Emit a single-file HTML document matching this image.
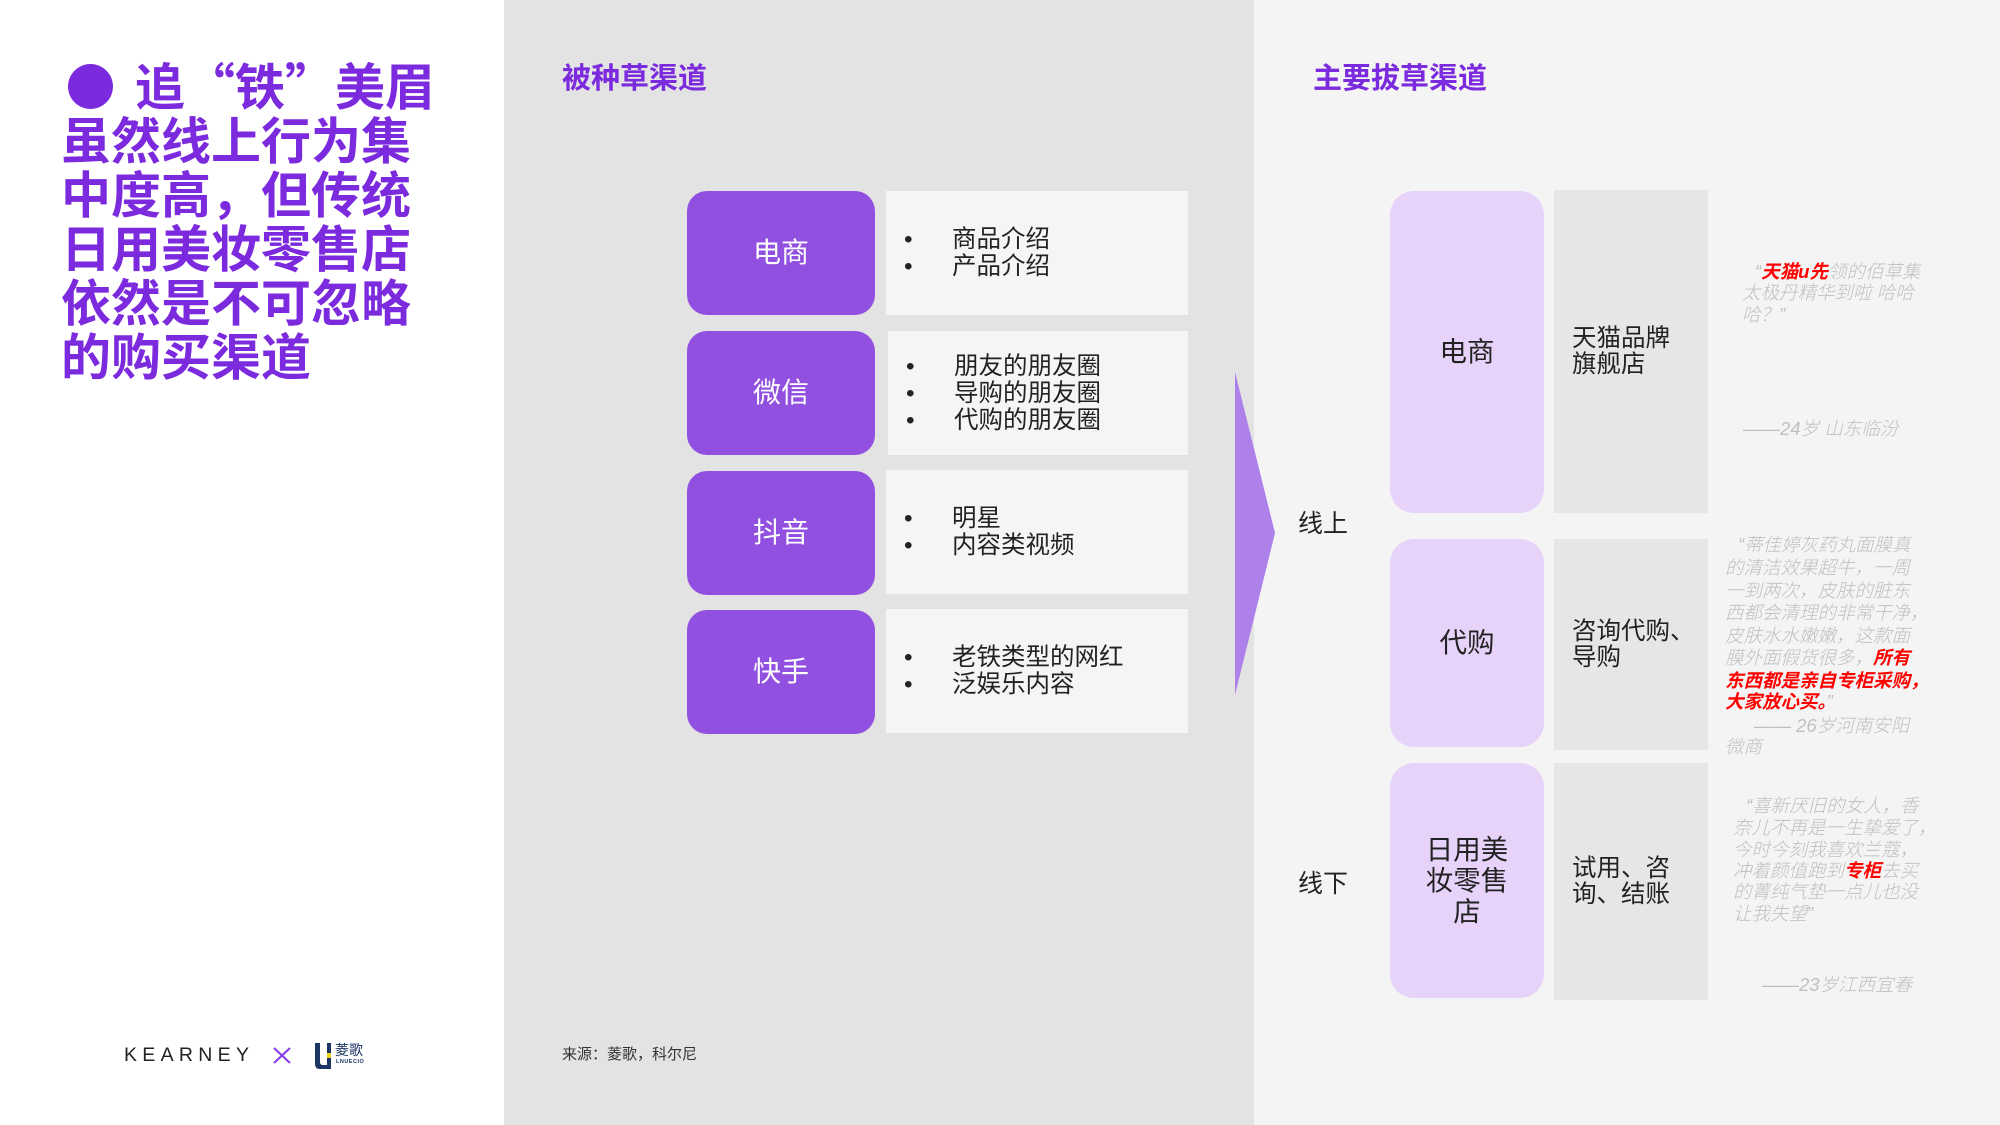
<!DOCTYPE html>
<html><head><meta charset="utf-8">
<style>
*{margin:0;padding:0;box-sizing:border-box}
body{width:2000px;height:1125px;position:relative;overflow:hidden;background:#fff;font-family:"Liberation Sans","Noto Sans CJK SC",sans-serif;}
.abs{position:absolute;white-space:nowrap}
.t{position:absolute;white-space:nowrap;font-family:"Noto Sans CJK SC","Liberation Sans",sans-serif;font-weight:700;color:#7b2ade;font-size:50px;line-height:54px;height:54px}
.c{display:inline-block;width:50px;text-align:left}
.h{position:absolute;white-space:nowrap;font-family:"Noto Sans CJK SC",sans-serif;font-weight:700;color:#7b2ade;font-size:29px;line-height:30px}
.pb{position:absolute;left:687px;width:188px;height:124px;background:#9150e0;border-radius:20px;display:flex;align-items:center;justify-content:center;color:#fff;font-size:28px;font-family:"Noto Sans CJK SC",sans-serif;padding-bottom:5px}
.wb{position:absolute;left:886px;width:302px;height:124px;background:#f5f5f5;display:flex;flex-direction:column;justify-content:center;font-family:"Liberation Sans","Noto Sans CJK SC",sans-serif;font-size:24.5px;line-height:27px;color:#222}
.wb div{position:relative;padding-left:66px;height:27px;white-space:nowrap}
.wb div span{position:absolute;left:18px;top:0;font-family:"Liberation Sans",sans-serif}
.lp{position:absolute;left:1390px;width:154px;background:#e7d3fa;border-radius:24px;display:flex;align-items:center;justify-content:center;text-align:center;color:#222;font-size:27.5px;line-height:31px;font-family:"Noto Sans CJK SC",sans-serif;padding-bottom:5px}
.gb{position:absolute;left:1554px;width:154px;background:#e6e6e6;display:flex;align-items:center;padding-left:18px;color:#222;font-size:24.5px;line-height:25.5px;font-family:"Liberation Sans","Noto Sans CJK SC",sans-serif}
.q{position:absolute;white-space:nowrap;font-family:"Liberation Sans","Noto Sans CJK SC",sans-serif;font-style:italic;font-weight:300;font-size:18.5px;line-height:22px;height:22px;color:#bfbfbf}
.r{color:#ff0000;font-weight:700}
.lab{position:absolute;white-space:nowrap;font-family:"Noto Sans CJK SC",sans-serif;font-size:25px;line-height:26px;color:#222}
</style></head><body>

<!-- panels -->
<div class="abs" style="left:504px;top:0;width:750px;height:1125px;background:#e3e3e3"></div>
<div class="abs" style="left:1254px;top:0;width:746px;height:1125px;background:#f4f4f4"></div>

<!-- left title -->
<div class="abs" style="left:68px;top:64px;width:45px;height:45px;border-radius:50%;background:#7b2ade"></div>
<div class="t" style="left:135px;top:57px"><span class="c">追</span><span class="c" style="text-align:right">“</span><span class="c">铁</span><span class="c">”</span><span class="c">美</span><span class="c">眉</span></div>
<div class="t" style="left:61px;top:111px">虽然线上行为集</div>
<div class="t" style="left:61px;top:165px">中度高，但传统</div>
<div class="t" style="left:61px;top:219px">日用美妆零售店</div>
<div class="t" style="left:61px;top:273px">依然是不可忽略</div>
<div class="t" style="left:61px;top:327px">的购买渠道</div>

<!-- section headers -->
<div class="h" style="left:562px;top:61px">被种草渠道</div>
<div class="h" style="left:1313px;top:61px">主要拔草渠道</div>

<!-- middle rows -->
<div class="pb" style="top:191px">电商</div>
<div class="wb" style="top:191px"><div><span>•</span>商品介绍</div><div><span>•</span>产品介绍</div></div>

<div class="pb" style="top:331px">微信</div>
<div class="wb" style="top:331px;left:888px;width:300px"><div><span>•</span>朋友的朋友圈</div><div><span>•</span>导购的朋友圈</div><div><span>•</span>代购的朋友圈</div></div>

<div class="pb" style="top:471px">抖音</div>
<div class="wb" style="top:470px"><div><span>•</span>明星</div><div><span>•</span>内容类视频</div></div>

<div class="pb" style="top:610px">快手</div>
<div class="wb" style="top:609px"><div><span>•</span>老铁类型的网红</div><div><span>•</span>泛娱乐内容</div></div>

<!-- arrow -->
<svg class="abs" style="left:0;top:0" width="2000" height="1125"><polygon points="1235,372 1275,533 1235,695" fill="#ad80ea"/></svg>

<div class="lab" style="left:1298px;top:509px">线上</div>
<div class="lab" style="left:1298px;top:869px">线下</div>

<!-- right rows -->
<div class="lp" style="top:191px;height:322px">电商</div>
<div class="gb" style="top:190px;height:323px">天猫品牌<br>旗舰店</div>

<div class="lp" style="top:539px;height:208px">代购</div>
<div class="gb" style="top:539px;height:211px">咨询代购、<br>导购</div>

<div class="lp" style="top:763px;height:235px">日用美<br>妆零售<br>店</div>
<div class="gb" style="top:763px;height:237px">试用、咨<br>询、结账</div>

<!-- quote 1 -->
<div class="q" style="left:1755px;top:261px">“<span class="r">天猫u先</span>领的佰草集</div>
<div class="q" style="left:1742px;top:282px">太极丹精华到啦 哈哈</div>
<div class="q" style="left:1742px;top:304px">哈？”</div>
<div class="q" style="left:1743px;top:418px">——24岁 山东临汾</div>

<!-- quote 2 -->
<div class="q" style="left:1738px;top:534px">“蒂佳婷灰药丸面膜真</div>
<div class="q" style="left:1725px;top:557px">的清洁效果超牛，一周</div>
<div class="q" style="left:1725px;top:580px">一到两次，皮肤的脏东</div>
<div class="q" style="left:1725px;top:602px">西都会清理的非常干净，</div>
<div class="q" style="left:1725px;top:625px">皮肤水水嫩嫩，这款面</div>
<div class="q" style="left:1725px;top:647px">膜外面假货很多，<span class="r">所有</span></div>
<div class="q" style="left:1725px;top:670px"><span class="r">东西都是亲自专柜采购，</span></div>
<div class="q" style="left:1725px;top:691px"><span class="r">大家放心买。</span>”</div>
<div class="q" style="left:1754px;top:715px">—— 26岁河南安阳</div>
<div class="q" style="left:1725px;top:736px">微商</div>

<!-- quote 3 -->
<div class="q" style="left:1746px;top:795px">“喜新厌旧的女人，香</div>
<div class="q" style="left:1733px;top:817px">奈儿不再是一生挚爱了，</div>
<div class="q" style="left:1733px;top:839px">今时今刻我喜欢兰蔻，</div>
<div class="q" style="left:1733px;top:860px">冲着颜值跑到<span class="r">专柜</span>去买</div>
<div class="q" style="left:1733px;top:881px">的菁纯气垫一点儿也没</div>
<div class="q" style="left:1733px;top:903px">让我失望”</div>
<div class="q" style="left:1762px;top:974px">——23岁江西宜春</div>

<!-- bottom logos -->
<div class="abs" style="left:124px;top:1045px;font-size:19.5px;line-height:20px;letter-spacing:5.3px;color:#222;font-family:'Liberation Sans',sans-serif">KEARNEY</div>
<svg class="abs" style="left:0;top:0" width="2000" height="1125">
<line x1="274" y1="1048" x2="290" y2="1063" stroke="#8a3ee6" stroke-width="2.2"/>
<line x1="290" y1="1048" x2="274" y2="1063" stroke="#8a3ee6" stroke-width="2.2"/>
<path d="M315,1043 L320,1043 L320,1062 Q320,1065 323,1065 L327,1065 L327,1043 L331,1043 L331,1069 L320,1069 Q315,1069 315,1064 Z" fill="#1c3563"/>
<rect x="327" y="1053" width="4" height="5" fill="#f2d21b"/>
</svg>
<div class="abs" style="left:335px;top:1043px;font-size:14px;line-height:15px;color:#1c3563;font-family:'Noto Sans CJK SC',sans-serif">菱歌</div>
<div class="abs" style="left:336px;top:1059px;font-size:5.5px;line-height:6px;color:#1c3563;font-weight:700;font-family:'Liberation Sans',sans-serif;letter-spacing:0.5px">LNUECIO</div>

<div class="abs" style="left:562px;top:1045px;font-size:15px;line-height:17px;color:#333;font-family:'Noto Sans CJK SC',sans-serif">来源：菱歌，科尔尼</div>

</body></html>
